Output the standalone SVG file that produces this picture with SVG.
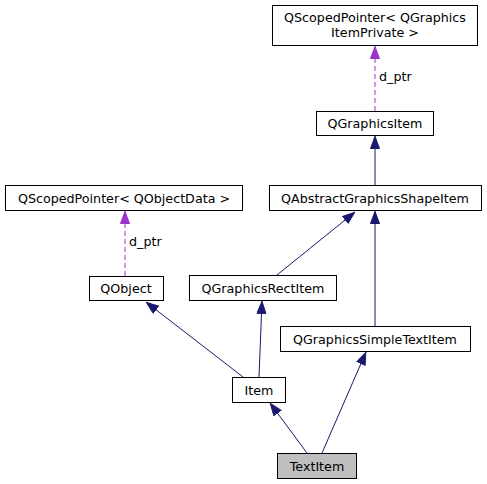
<svg xmlns="http://www.w3.org/2000/svg" width="487" height="484" viewBox="0 0 487 484">
<style>
.n rect{fill:#fff;stroke:#000;stroke-width:1}
.n text{font-family:"DejaVu Sans",sans-serif;font-size:12.7px;text-anchor:middle;fill:#000}
.e{stroke:#191970;stroke-width:1;fill:none}
.d{stroke:#9a32cd;stroke-width:1;fill:none;stroke-dasharray:5,3}
.lbl{font-family:"DejaVu Sans",sans-serif;font-size:12.7px;fill:#000}
</style>
<defs>
<marker id="ah" markerWidth="13" markerHeight="10" refX="13" refY="5" orient="auto" markerUnits="userSpaceOnUse"><path d="M0.5,0.5 L12.5,5 L0.5,9.5 Z" fill="#191970" stroke="#191970"/></marker>
<marker id="ap" markerWidth="13" markerHeight="10" refX="13" refY="5" orient="auto" markerUnits="userSpaceOnUse"><path d="M0.5,0.5 L12.5,5 L0.5,9.5 Z" fill="#9a32cd" stroke="#9a32cd"/></marker>
</defs>
<rect width="487" height="484" fill="#fff"/>
<g id="edges">
<path class="d" d="M375,111 L375,46" marker-end="url(#ap)"/>
<text class="lbl" x="379" y="81">d_ptr</text>
<path class="d" d="M125,276 L125,211" marker-end="url(#ap)"/>
<text class="lbl" x="129" y="246">d_ptr</text>
<path class="e" d="M375,185 L375,136" marker-end="url(#ah)"/>
<path class="e" d="M277,275 L355,212" marker-end="url(#ah)"/>
<path class="e" d="M375,326 L375,211" marker-end="url(#ah)"/>
<path class="e" d="M243,377 L146,302" marker-end="url(#ah)"/>
<path class="e" d="M259,377 L262,301" marker-end="url(#ah)"/>
<path class="e" d="M307,453 L270,403" marker-end="url(#ah)"/>
<path class="e" d="M322,453 L366,352" marker-end="url(#ah)"/>
</g>
<g id="QScopedPointerGIP" class="n"><rect x="272.5" y="5.5" width="205" height="40"/><text x="375" y="22">QScopedPointer&lt; QGraphics</text><text x="375" y="37">ItemPrivate &gt;</text></g>
<g id="QGraphicsItem" class="n"><rect x="316.5" y="111.5" width="117" height="24"/><text x="375" y="128">QGraphicsItem</text></g>
<g id="QAbstractGraphicsShapeItem" class="n"><rect x="269.5" y="185.5" width="212" height="25"/><text x="375" y="203">QAbstractGraphicsShapeItem</text></g>
<g id="QScopedPointerOD" class="n"><rect x="5.5" y="185.5" width="237" height="25"/><text x="124" y="203">QScopedPointer&lt; QObjectData &gt;</text></g>
<g id="QObject" class="n"><rect x="89.5" y="276.5" width="74" height="24"/><text x="126" y="293">QObject</text></g>
<g id="QGraphicsRectItem" class="n"><rect x="189.5" y="275.5" width="147" height="25"/><text x="263" y="293">QGraphicsRectItem</text></g>
<g id="QGraphicsSimpleTextItem" class="n"><rect x="280.5" y="326.5" width="190" height="25"/><text x="375" y="344">QGraphicsSimpleTextItem</text></g>
<g id="Item" class="n"><rect x="232.5" y="377.5" width="53" height="25"/><text x="259" y="395">Item</text></g>
<g id="TextItem" class="n"><rect x="277.5" y="453.5" width="79" height="25" style="fill:#bfbfbf"/><text x="317" y="471">TextItem</text></g>
</svg>
